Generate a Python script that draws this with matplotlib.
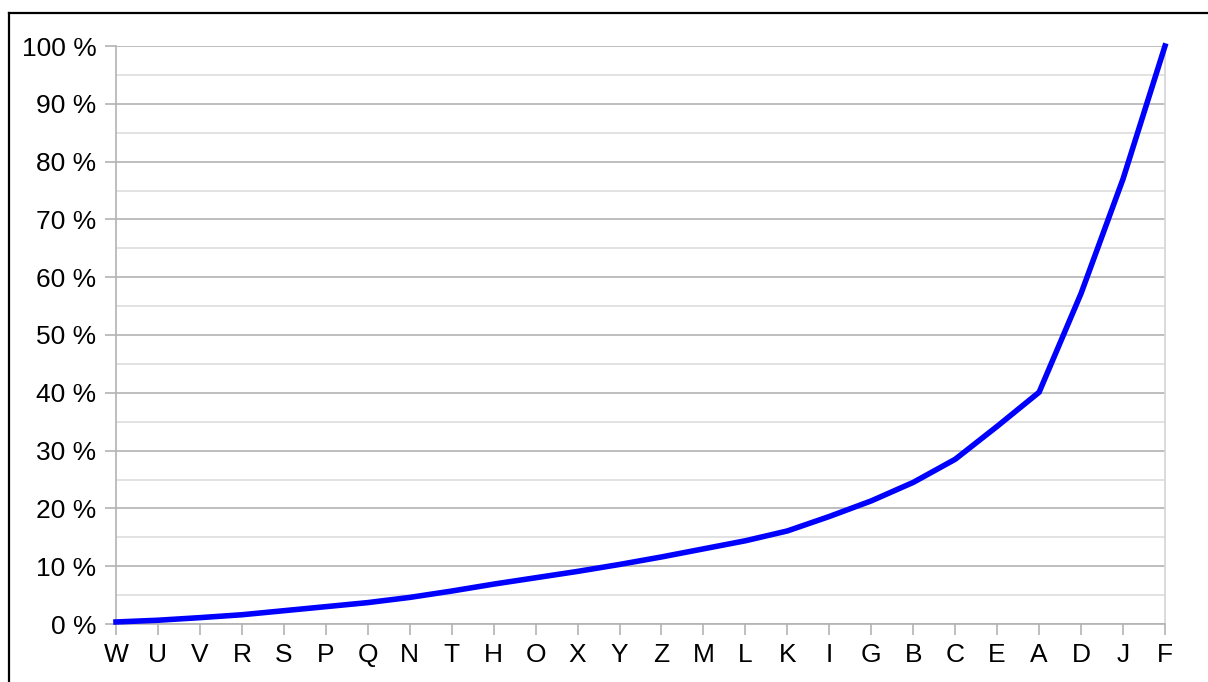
import numpy as np
import matplotlib.pyplot as plt
from matplotlib.ticker import MultipleLocator, FuncFormatter
from matplotlib.lines import Line2D

plt.rcParams['font.family'] = ['Liberation Sans', 'DejaVu Sans']

# categories along x, cumulative share in percent
cats = ['W', 'U', 'V', 'R', 'S', 'P', 'Q', 'N', 'T', 'H', 'O', 'X', 'Y',
        'Z', 'M', 'L', 'K', 'I', 'G', 'B', 'C', 'E', 'A', 'D', 'J', 'F']
share = [0.35, 0.65, 1.1, 1.6, 2.3, 3.0, 3.7, 4.6, 5.7, 6.9, 8.0, 9.1, 10.3,
         11.6, 13.0, 14.4, 16.1, 18.6, 21.3, 24.5, 28.5, 34.2, 40.1, 57.2, 77.0, 100.0]

fig = plt.figure(figsize=(12.08, 6.82), dpi=100)
ax = fig.add_axes([116/1208, 58/682, 1049/1208, 578/682])

x = np.arange(len(cats))
ax.plot(x, share, color='#0000ff', lw=4.0, solid_joinstyle='miter', clip_on=False, zorder=5)

ax.set_xlim(0, len(cats) - 1)
ax.set_ylim(0, 100)
ax.set_xticks(x)
ax.set_xticklabels(cats)
ax.yaxis.set_major_locator(MultipleLocator(10))
ax.yaxis.set_minor_locator(MultipleLocator(5))
ax.yaxis.set_major_formatter(FuncFormatter(lambda v, p: '%d %%' % v))

ax.grid(True, which='major', axis='y', color='#b3b3b3', lw=1.2)
ax.grid(True, which='minor', axis='y', color='#dddddd', lw=1.2)
ax.set_axisbelow(True)

ax.tick_params(axis='both', which='major', labelsize=19, color='#b3b3b3',
               width=1.2, length=8, pad=6)
ax.tick_params(axis='y', which='minor', length=0)

for s in ['left', 'bottom']:
    ax.spines[s].set_color('#b3b3b3')
    ax.spines[s].set_linewidth(1.2)
ax.spines['right'].set_color('#d4d4d4')
ax.spines['right'].set_linewidth(1.2)
ax.spines['top'].set_visible(False)

# outer frame (partly cut off by the image edge)
fig.add_artist(Line2D([8.5/1208, 8.5/1208], [0, 1 - 12.5/682], color='black', lw=1.6,
                      transform=fig.transFigure))
fig.add_artist(Line2D([8.5/1208, 1], [1 - 12.5/682, 1 - 12.5/682], color='black', lw=1.6,
                      transform=fig.transFigure))

fig.savefig('out.png', dpi=100)
